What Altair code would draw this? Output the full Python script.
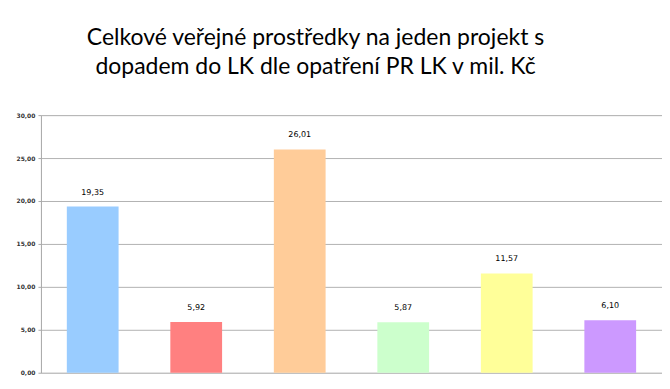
import altair as alt
import pandas as pd

categories = ["Opatření 1", "Opatření 2", "Opatření 3", "Opatření 4", "Opatření 5", "Opatření 6"]
values = [19.35, 5.92, 26.01, 5.87, 11.57, 6.10]
colors = ["#99CCFF", "#FF8080", "#FFCC99", "#CCFFCC", "#FFFF99", "#CC99FF"]
title_lines = ["Celkové veřejné prostředky na jeden projekt s", "dopadem do LK dle opatření PR LK v mil. Kč"]

df = pd.DataFrame({"cat": categories, "val": values})
df["label"] = [f"{v:.2f}".replace(".", ",") for v in values]

x = alt.X("cat:N", sort=categories,
          scale=alt.Scale(paddingInner=0.5, paddingOuter=0.25),
          axis=alt.Axis(labels=False, ticks=False, title=None, domain=False))
y = alt.Y("val:Q", scale=alt.Scale(domain=[0, 30], nice=False),
          axis=alt.Axis(values=[0, 5, 10, 15, 20, 25, 30], title=None,
                        labelExpr="replace(format(datum.value, '.2f'), '.', ',')",
                        labelFont="DejaVu Sans", labelFontSize=6, labelFontWeight="bold",
                        labelColor="#333333", tickSize=3, tickColor="#aaaaaa",
                        domainColor="#aaaaaa", gridColor="#b3b3b3", labelPadding=3))

bars = alt.Chart(df).mark_bar().encode(
    x=x, y=y,
    color=alt.Color("cat:N", sort=categories, scale=alt.Scale(domain=categories, range=colors), legend=None),
)
text = alt.Chart(df).mark_text(dy=-10, font="DejaVu Sans", fontSize=8, color="#000000", baseline="bottom").encode(
    x=alt.X("cat:N", sort=categories), y="val:Q", text="label:N"
)

chart = alt.layer(bars, text).properties(
    width=622, height=258,
    padding={"left": 33, "top": 107, "right": 0, "bottom": 8},
    autosize=alt.AutoSizeParams(type="none"),
    title=alt.TitleParams(title_lines, font="Lato", fontSize=23, fontWeight="normal",
                          color="#000000", anchor="middle", dx=-36, offset=33, lineHeight=29),
).configure_view(stroke=None).configure(background="white")

chart.save("out.html", embed_options={"renderer": "svg", "actions": False})
